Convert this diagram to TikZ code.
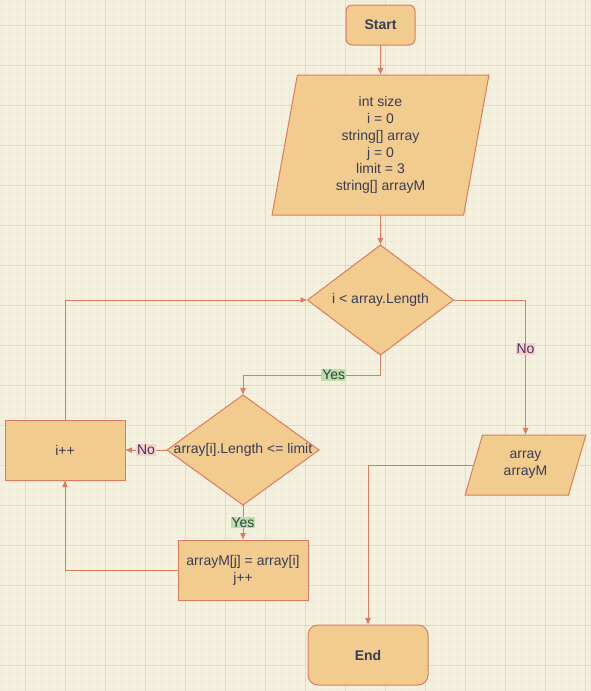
\documentclass[tikz,border=0pt]{standalone}
\usepackage{fontspec}
\setmainfont{Liberation Sans}
\usetikzlibrary{positioning,shapes.geometric,arrows.meta}
\definecolor{mybg}{HTML}{F4F1DE}
\definecolor{myfill}{HTML}{F2CC8F}
\definecolor{myline}{HTML}{E07A5F}
\definecolor{mytext}{HTML}{393C56}
\definecolor{mygreen}{HTML}{B9E0A5}
\definecolor{mypink}{HTML}{F8CECC}
\definecolor{minorgrid}{HTML}{EEEAD7}
\definecolor{majorgrid}{HTML}{DFDBC6}
\begin{document}
\begin{tikzpicture}[x=1pt,y=-1pt,node distance=30pt,inner sep=0pt,text=mytext,font=\fontsize{14}{16.8}\selectfont]
\tikzstyle{base}=[draw=myline, fill=myfill, line width=1pt, outer sep=0pt, align=center]
\tikzstyle{term}=[base, rectangle, font=\fontsize{14}{16.8}\selectfont\bfseries]
\tikzstyle{io}=[base, trapezium, trapezium stretches=true]
\tikzstyle{decision}=[base, diamond, minimum width=146pt, minimum height=110pt]
\tikzstyle{process}=[base, rectangle]
\tikzstyle{connect}=[-{Latex[length=7pt,width=6pt]}, draw=myline, line width=1pt]
\tikzstyle{yeslabel}=[fill=mygreen, inner sep=1pt]
\tikzstyle{nolabel}=[fill=mypink, inner sep=1pt]
\useasboundingbox (0,0) rectangle (591,691);
% paper
\fill[mybg] (0,0) rectangle (591,691);
\foreach \k in {0,...,73} \draw[minorgrid,line width=0.6pt] (1+8*\k,0) -- (1+8*\k,691);
\foreach \k in {0,...,86} \draw[minorgrid,line width=0.6pt] (0,1+8*\k) -- (591,1+8*\k);
\foreach \k in {0,...,14} \draw[majorgrid,line width=0.8pt] (25+40*\k,0) -- (25+40*\k,691);
\foreach \k in {0,...,16} \draw[majorgrid,line width=0.8pt] (0,25+40*\k) -- (591,25+40*\k);

% nodes
\node[term, rounded corners=6pt, minimum width=69pt, minimum height=40pt] (start) at (380.5,25) {Start};
\node[io, trapezium left angle=82, trapezium right angle=98, minimum width=217pt, minimum height=140pt] (init) [below=of start]
  {int size\\ i = 0\\ string[] array\\ j = 0\\ limit = 3\\ string[] arrayM};
\node[decision, label={center:i < array.Length}] (loop) [below=of init] {};
\node[decision, minimum width=152pt, label={center:array[i].Length <= limit}] (check) at (243,450) {};
\node[process, minimum width=120pt, minimum height=60pt] (inc) [left=42pt of check] {i++};
\node[process, minimum width=130pt, minimum height=60pt] (assign) [below=35pt of check] {arrayM[j] = array[i]\\ j++};
\node[io, trapezium left angle=72, trapezium right angle=108, minimum width=121pt, minimum height=60pt] (output) at (525.5,465) {array\\ arrayM};
\node[term, rounded corners=10pt, minimum width=120pt, minimum height=60pt] (fin) at (368,655) {End};

% connectors
\draw[connect] (start) -- (init);
\draw[connect] (init) -- (loop);
\draw[connect] (loop.south) -- ++(0,20) -| node[yeslabel,pos=0.17] {Yes} (check.north);
\draw[connect] (check) -- node[nolabel] {No} (inc);
\draw[connect] (check) -- node[yeslabel] {Yes} (assign);
\draw[connect] (assign) -| (inc);
\draw[connect] (inc) |- (loop);
\draw[connect] (loop) -| node[nolabel,pos=0.68] {No} (output);
\draw[connect] (output) -| (fin);
\end{tikzpicture}
\end{document}
